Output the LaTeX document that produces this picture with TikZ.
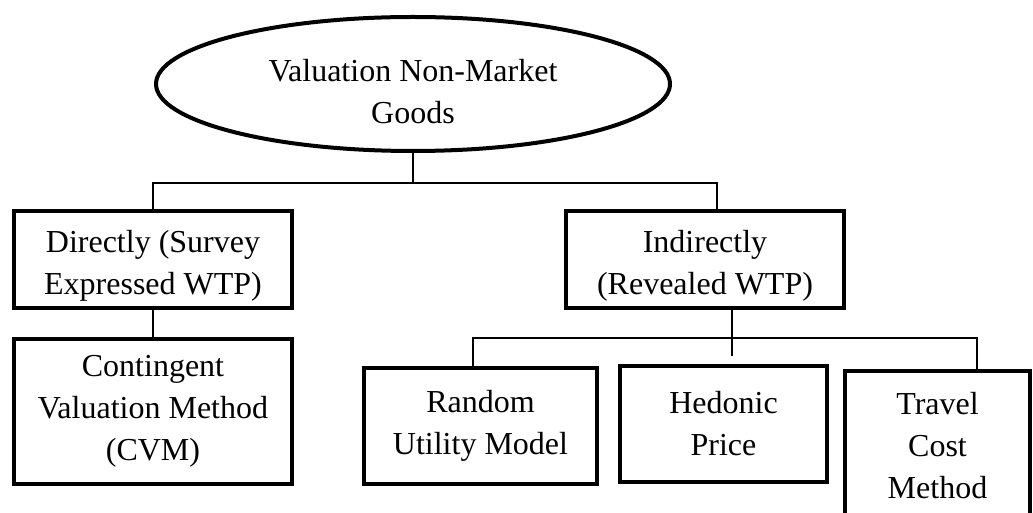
\documentclass[tikz,border=0pt]{standalone}
\usepackage{fontspec}
\setmainfont{Liberation Serif}
\usepackage{tikz}
\usetikzlibrary{positioning,shapes.geometric,calc}

\begin{document}
\begin{tikzpicture}[
  x=0.5pt,y=-0.5pt,
  root/.style={draw,ellipse,line width=2pt,inner sep=0pt,
               minimum width=257pt,minimum height=67pt,align=center,
               font=\fontsize{16}{21}\selectfont},
  method/.style={draw,rectangle,line width=2.2pt,inner sep=0pt,
                 align=center,font=\fontsize{16}{21}\selectfont},
  link/.style={line width=0.75pt}
]
\clip (0,0) rectangle (1033,513);
\node[root] (goods) at (413,84) {\rule{0pt}{18.5pt}Valuation Non-Market\\Goods};
\node[method,minimum width=139pt,minimum height=48.5pt] (dir) at (153,259.5) {\rule{0pt}{17pt}Directly (Survey\\Expressed WTP)};
\node[method,minimum width=139pt,minimum height=48.5pt] (ind) at (705,259.5) {\rule{0pt}{17pt}Indirectly\\(Revealed WTP)};
\node[method,minimum width=139pt,minimum height=72.5pt] (cvm) at (153,411.5) {Contingent\\Valuation Method\\(CVM)};
\node[method,minimum width=116.5pt,minimum height=58pt] (rum) at (480.5,426) {Random\\Utility Model};
\node[method,minimum width=103.5pt,minimum height=58pt] (hp) at (723.5,424) {Hedonic\\Price};
\node[method,minimum width=92.5pt,minimum height=74.5pt] (tcm) at (937.5,445.5) {Travel\\Cost\\Method};

% top level
\coordinate (bus1) at (413,183);
\draw[link] (goods.south) -- (bus1);
\draw[link] (dir.north) |- (bus1) -| ($(ind.north)+(12,0)$);
\draw[link] (dir.south) -- (cvm.north);

% revealed methods
\coordinate (bus2) at (732,338);
\coordinate (stub) at (732,356);
\draw[link] ($(ind.south)+(27,0)$) -- (stub);
\draw[link] ($(rum.north)+(-7.5,0)$) |- (bus2) -| ($(tcm.north)+(39.5,0)$);
\end{tikzpicture}
\end{document}
